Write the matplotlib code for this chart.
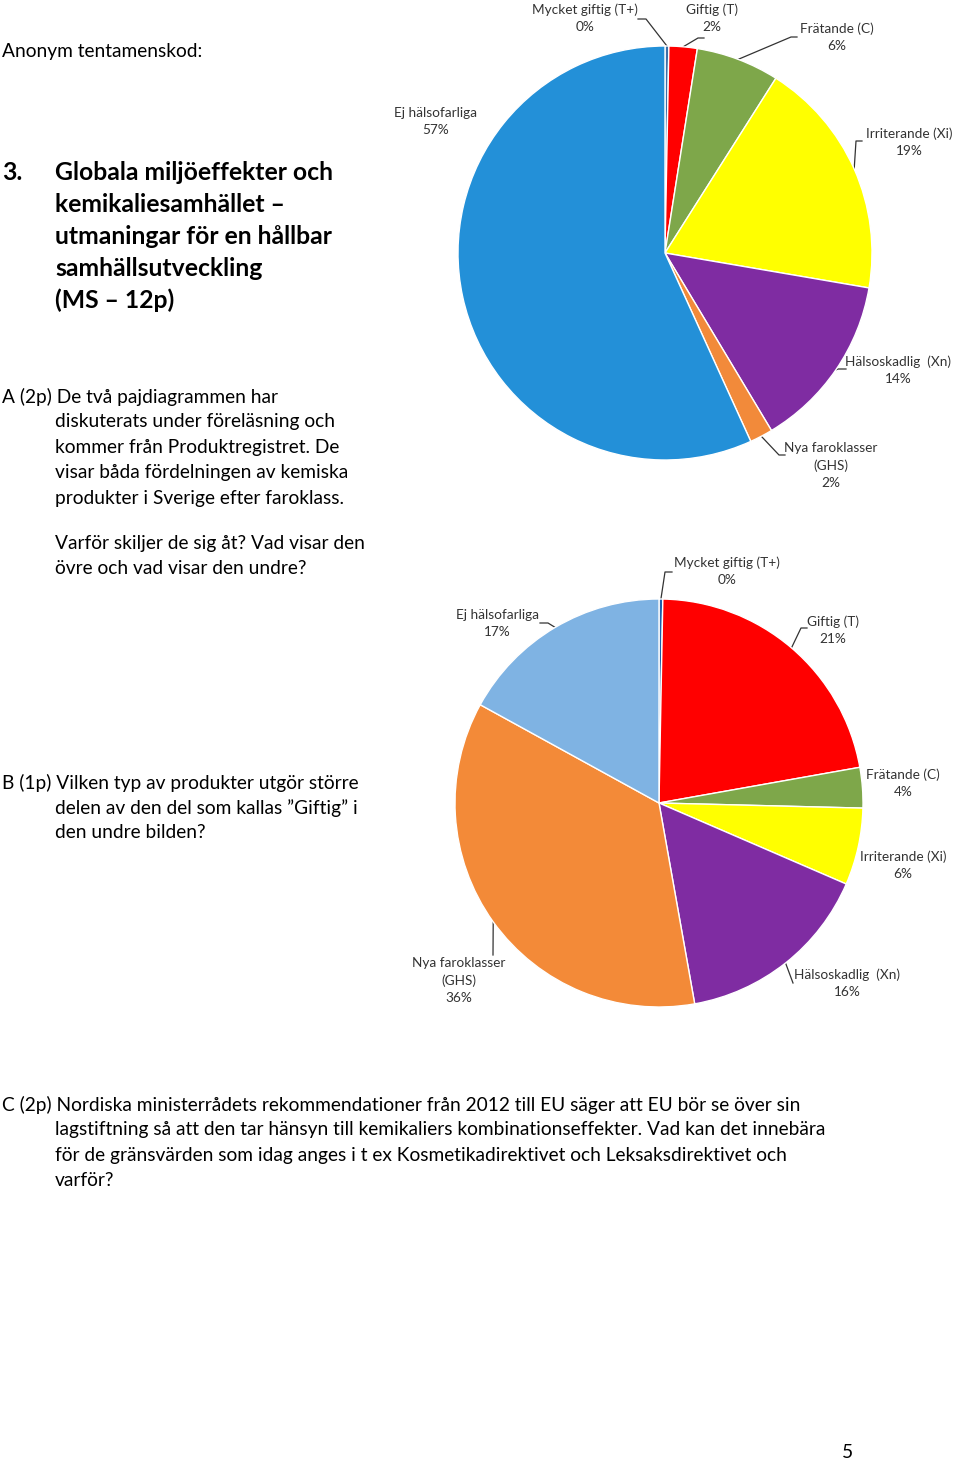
import numpy as np
import matplotlib
matplotlib.use("Agg")
import matplotlib.pyplot as plt

plt.rcParams['font.family'] = ['Lato', 'DejaVu Sans']

# pie data (percent), clockwise from 12 o'clock
categories = ["Mycket giftig (T+)", "Giftig (T)", "Frätande (C)", "Irriterande (Xi)",
              "Hälsoskadlig  (Xn)", "Nya faroklasser\n(GHS)", "Ej hälsofarliga"]
top_values = [0.3, 2.2, 6.5, 18.7, 13.7, 1.8, 56.8]
top_labels = ["0%", "2%", "6%", "19%", "14%", "2%", "57%"]
bottom_values = [0.3, 21.9, 3.2, 6.1, 15.7, 35.8, 17.0]
bottom_labels = ["0%", "21%", "4%", "6%", "16%", "36%", "17%"]

top_colors = ["#3B6FA8", "#FF0000", "#7EA74A", "#FFFF00", "#7F2CA2", "#F28A3A", "#2390D8"]
bottom_colors = ["#1F5DA8", "#FF0000", "#7EA74A", "#FFFF00", "#7F2CA2", "#F38A38", "#7FB3E3"]

W, H = 960, 1463
fig = plt.figure(figsize=(W / 100, H / 100), dpi=100)
page = fig.add_axes([0, 0, 1, 1])
page.set_xlim(0, W)
page.set_ylim(H, 0)
page.axis('off')


def draw_pie(values, colors, cx, cy, r):
    ax = fig.add_axes([(cx - r) / W, 1 - (cy + r) / H, 2 * r / W, 2 * r / H])
    ax.pie(values, colors=colors, startangle=90, counterclock=False, radius=1,
           wedgeprops=dict(edgecolor='white', linewidth=1.0))
    ax.set_xlim(-1, 1)
    ax.set_ylim(-1, 1)
    ax.axis('off')
    # mid-angle edge points in page pixels
    cum = np.cumsum([0] + list(values)) / sum(values)
    mids = (cum[:-1] + cum[1:]) / 2 * 2 * np.pi
    return [(cx + r * np.sin(a), cy - r * np.cos(a)) for a in mids]


top_edge = draw_pie(top_values, top_colors, 665, 253, 207)
bot_edge = draw_pie(bottom_values, bottom_colors, 659, 803, 204)

lab_kw = dict(ha='center', va='top', fontsize=9.8, color='#333333', linespacing=1.5)
lead_kw = dict(color='#333333', lw=0.9)

# label text x, top y and leader points (from text side towards the wedge)
top_pos = [(585, 3, [(638, 19), (646, 19)]),
           (712, 3, [(704, 38), (698, 38)]),
           (837, 22, [(797, 37), (791, 37)]),
           (909, 127, [(862, 141), (856, 141)]),
           (898, 355, [(846, 369), (838, 369)]),
           (831, 442, [(785, 455), (779, 455)]),
           (436, 107, None)]
for i, (x, y, pts) in enumerate(top_pos):
    page.text(x, y, categories[i] + "\n" + top_labels[i], **lab_kw)
    if pts:
        ex, ey = top_edge[i]
        page.plot([p[0] for p in pts] + [ex], [p[1] for p in pts] + [ey], **lead_kw)

bot_pos = [(727, 556, [(672, 572), (665, 572)]),
           (833, 615, [(807, 628), (801, 628)]),
           (903, 768, None),
           (903, 850, None),
           (847, 968, [(793, 983)]),
           (459, 957, [(493, 955)]),
           (497, 609, [(540, 623), (548, 623)])]
for i, (x, y, pts) in enumerate(bot_pos):
    page.text(x, y, categories[i] + "\n" + bottom_labels[i], **lab_kw)
    if pts:
        ex, ey = bot_edge[i]
        page.plot([p[0] for p in pts] + [ex], [p[1] for p in pts] + [ey], **lead_kw)

# page text
body = dict(fontsize=13.75, color='black', va='center', ha='left')
head = dict(fontsize=17.8, color='black', va='center', ha='left', fontweight='bold')

page.text(2, 51, "Anonym tentamenskod:", **body)
page.text(2, 172, "3.", **head)
heading = ["Globala miljöeffekter och", "kemikaliesamhället –", "utmaningar för en hållbar",
           "samhällsutveckling", "(MS – 12p)"]
for k, line in enumerate(heading):
    page.text(55, 172 + 32 * k, line, **head)

page.text(2, 397, "A (2p) De två pajdiagrammen har", **body)
a_lines = ["diskuterats under föreläsning och", "kommer från Produktregistret. De",
           "visar båda fördelningen av kemiska", "produkter i Sverige efter faroklass."]
for k, line in enumerate(a_lines):
    page.text(55, 422 + 25.4 * k, line, **body)
page.text(55, 543, "Varför skiljer de sig åt? Vad visar den", **body)
page.text(55, 568, "övre och vad visar den undre?", **body)

page.text(2, 783, "B (1p) Vilken typ av produkter utgör större", **body)
page.text(55, 808, "delen av den del som kallas ”Giftig” i", **body)
page.text(55, 833, "den undre bilden?", **body)

page.text(2, 1105, "C (2p) Nordiska ministerrådets rekommendationer från 2012 till EU säger att EU bör se över sin", **body)
c_lines = ["lagstiftning så att den tar hänsyn till kemikaliers kombinationseffekter. Vad kan det innebära",
           "för de gränsvärden som idag anges i t ex Kosmetikadirektivet och Leksaksdirektivet och",
           "varför?"]
for k, line in enumerate(c_lines):
    page.text(55, 1130 + 25.5 * k, line, **body)

page.text(847, 1453, "5", **dict(body, ha='center'))

fig.savefig("out.png", dpi=100)
